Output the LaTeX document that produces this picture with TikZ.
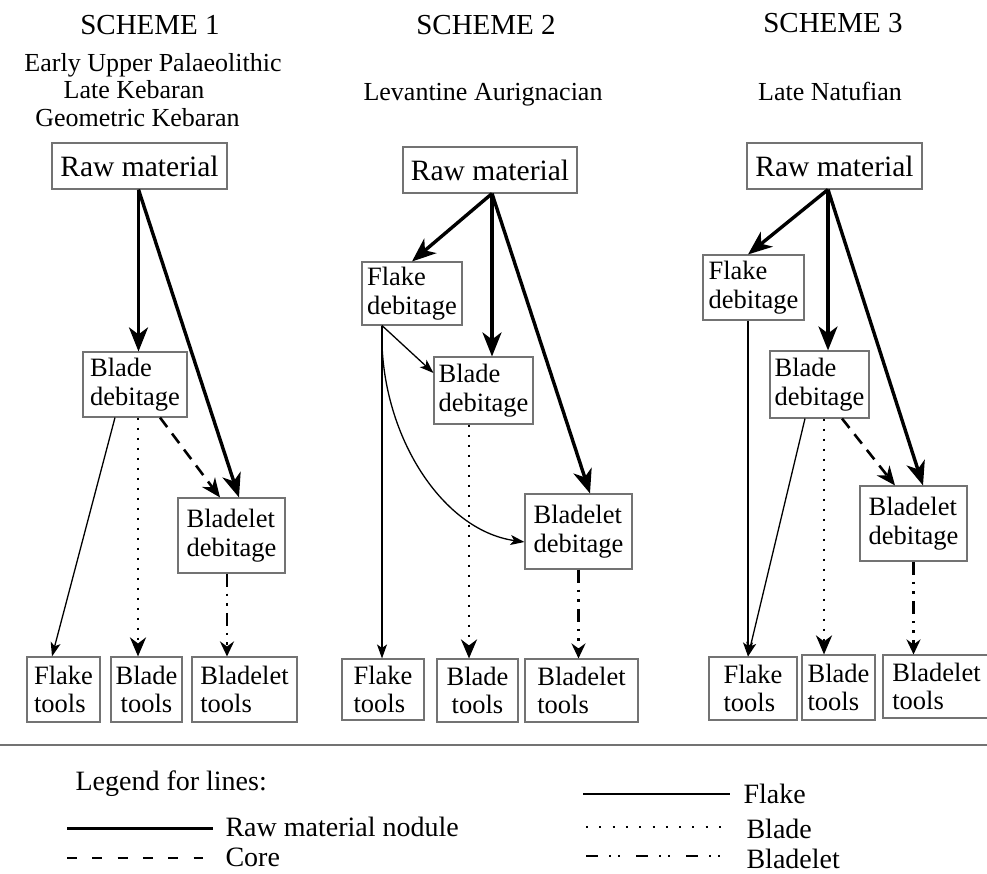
\documentclass[tikz,border=0pt]{standalone}
\usepackage{fontspec}
\setmainfont{Liberation Serif}
\usetikzlibrary{arrows.meta,calc}
\begin{document}
\begin{tikzpicture}[x=1pt,y=-1pt,
  box/.style={draw=black!55, line width=1.1pt, inner sep=0pt, align=left, font=\fontsize{26.5}{28.5}\selectfont},
  rawbox/.style={box, font=\fontsize{29.5}{32}\selectfont},
  head/.style={font=\fontsize{29}{32}\selectfont, anchor=base},
  sub/.style={font=\fontsize{26}{28}\selectfont, anchor=base},
  nodule/.style={line width=3.4pt, -{Stealth[length=24pt,width=19pt,inset=7pt]}},
  corearr/.style={line width=2.6pt, dash pattern=on 12pt off 8pt, -{Stealth[length=19pt,width=16pt,inset=6pt]}},
  bladearr/.style={line width=2.8pt, dash pattern=on 2.8pt off 7.2pt, -{Stealth[length=19pt,width=16pt,inset=6pt]}},
  bletarr/.style={line width=2.6pt, dash pattern=on 13pt off 7pt on 2.6pt off 7pt on 2.6pt off 7pt, -{Stealth[length=15pt,width=14pt,inset=5pt]}},
  flakearr/.style={line width=1.3pt, -{Stealth[length=14pt,width=10pt,inset=3.5pt]}},
  legtext/.style={font=\fontsize{28}{30}\selectfont, anchor=base west},
]
\useasboundingbox (0,0) rectangle (987,874);

% ---------- headings ----------
\node[head] (h1) at (150,35) {SCHEME 1};
\node[head] (h2) at (486,35) {SCHEME 2};
\node[head] (h3) at (833,33) {SCHEME 3};
\node[sub] (t1a) at (153,72) {Early Upper Palaeolithic};
\node[sub] (t1b) at (134,99) {Late Kebaran};
\node[sub] (t1c) at (137.5,127) {Geometric Kebaran};
\node[sub] (t2) at (483,101) {Levantine Aurignacian};
\node[sub] (t3) at (830,101) {Late Natufian};

% ---------- scheme 1 ----------
\node[rawbox, minimum width=175pt, minimum height=46pt] (s1raw) at (139.5,166) {Raw material};
\node[box, minimum width=104pt, minimum height=65pt] (s1blade) at (135,384.5) {Blade\\debitage};
\node[box, minimum width=107pt, minimum height=75pt] (s1blet) at (231.5,535.5) {Bladelet\\debitage};
\node[box, minimum width=73pt, minimum height=65pt] (s1ft) at (63.5,689.5) {Flake\\tools};
\node[box, align=center, minimum width=71pt, minimum height=65pt] (s1bt) at (146.5,689.5) {Blade\\tools};
\node[box, minimum width=105pt, minimum height=65pt] (s1blt) at (244.5,689.5) {Bladelet\\tools};

\coordinate (s1top) at ([xshift=-1pt]s1raw.south);
\draw[nodule] (s1top) -- (s1top |- s1blade.north);
\draw[nodule] (s1top) -- ([xshift=7.5pt]s1blet.north);
\draw[corearr] ([xshift=25pt]s1blade.south) -- ([xshift=-11.5pt]s1blet.north);
\draw[bladearr] ([xshift=3pt]s1blade.south) -- ([xshift=3pt]s1blade.south |- s1bt.north);
\draw[flakearr] ([xshift=-20pt]s1blade.south) -- ([xshift=-11.5pt]s1ft.north);
\draw[bletarr] ([xshift=-4.5pt]s1blet.south) -- ([xshift=-4.5pt]s1blet.south |- s1blt.north);

% ---------- scheme 2 ----------
\node[rawbox, minimum width=174pt, minimum height=46pt] (s2raw) at (490,170) {Raw material};
\node[box, minimum width=100pt, minimum height=63pt] (s2flake) at (412,293.5) {Flake\\debitage};
\node[box, minimum width=99pt, minimum height=67pt] (s2blade) at (483.5,390.5) {Blade\\debitage};
\node[box, minimum width=107pt, minimum height=75pt] (s2blet) at (578.5,531.5) {Bladelet\\debitage};
\node[box, minimum width=82pt, minimum height=61pt] (s2ft) at (383,689.5) {Flake\\tools};
\node[box, align=center, minimum width=81pt, minimum height=63pt] (s2bt) at (477.5,690.5) {Blade\\tools};
\node[box, minimum width=113pt, minimum height=63pt] (s2blt) at (581.5,690.5) {Bladelet\\tools};

\coordinate (s2top) at ([xshift=2pt]s2raw.south);
\coordinate (s2fb) at ([xshift=-30pt]s2flake.south);
\draw[nodule] (s2top) -- (s2flake.north);
\draw[nodule] (s2top) -- (s2top |- s2blade.north);
\draw[nodule] (s2top) -- ([xshift=11.5pt]s2blet.north);
\draw[flakearr] (s2fb) -- ([yshift=17.5pt]s2blade.west);
\draw[flakearr] (s2fb) -- (s2fb |- s2ft.north);
\draw[flakearr] (s2fb) .. controls (378,430) and (440,530) .. ([yshift=-10.5pt]s2blet.west);
\draw[bladearr] ([xshift=-14.5pt]s2blade.south) -- ([xshift=-14.5pt]s2blade.south |- s2bt.north);
\draw[bletarr] (s2blet.south) -- (s2blet.south |- s2blt.north);

% ---------- scheme 3 ----------
\node[rawbox, minimum width=175pt, minimum height=46pt] (s3raw) at (834.5,166) {Raw material};
\node[box, minimum width=101pt, minimum height=65pt] (s3flake) at (753.5,287.5) {Flake\\debitage};
\node[box, minimum width=99pt, minimum height=67pt] (s3blade) at (819.5,384.5) {Blade\\debitage};
\node[box, minimum width=107pt, minimum height=75pt] (s3blet) at (913.5,523.5) {Bladelet\\debitage};
\node[box, minimum width=88pt, minimum height=63pt] (s3ft) at (753,688.5) {Flake\\tools};
\node[box, minimum width=73pt, minimum height=65pt] (s3bt) at (838.5,687.5) {Blade\\tools};
\node[box, minimum width=107pt, minimum height=63pt] (s3blt) at (936.5,686.5) {Bladelet\\tools};

\coordinate (s3top) at ([xshift=-6.5pt]s3raw.south);
\coordinate (s3fb) at ([xshift=-5.5pt]s3flake.south);
\coordinate (s3ftin) at (s3fb |- s3ft.north);
\draw[nodule] (s3top) -- ([xshift=-5.5pt]s3flake.north);
\draw[nodule] (s3top) -- (s3top |- s3blade.north);
\draw[nodule] (s3top) -- ([xshift=9.5pt]s3blet.north);
\draw[flakearr] (s3fb) -- (s3ftin);
\draw[flakearr] ([xshift=-14.5pt]s3blade.south) -- (s3ftin);
\draw[bladearr] ([xshift=4.5pt]s3blade.south) -- ([xshift=4.5pt]s3blade.south |- s3bt.north);
\draw[corearr] ([xshift=22.5pt]s3blade.south) -- ([xshift=-18.5pt]s3blet.north);
\draw[bletarr] (s3blet.south) -- (s3blet.south |- s3blt.north);

% ---------- separator and legend ----------
\draw[black!55, line width=1.5pt] (0,745) -- (987,745);
\node[legtext] (leg) at (72,790) {Legend for lines:};
\draw[line width=3pt] (67,828) -- (213,828);
\node[legtext] (lnod) at (222,836) {Raw material nodule};
\draw[line width=2pt, dash pattern=on 10pt off 15.3pt] (67,858) -- (203,858);
\node[legtext] (lcore) at (222,866) {Core};
\draw[line width=1.2pt] (583,794) -- (730,794);
\node[legtext] (lflake) at (740,803) {Flake};
\draw[line width=2pt, dash pattern=on 2pt off 11.3pt] (586,827) -- (722,827);
\node[legtext] (lblade) at (743,838) {Blade};
\draw[line width=2.4pt, dash pattern=on 12pt off 11pt on 2.2pt off 7pt on 2.2pt off 15.6pt] (586,856) -- (722,856);
\node[legtext] (lblet) at (743,868) {Bladelet};
\end{tikzpicture}
\end{document}
